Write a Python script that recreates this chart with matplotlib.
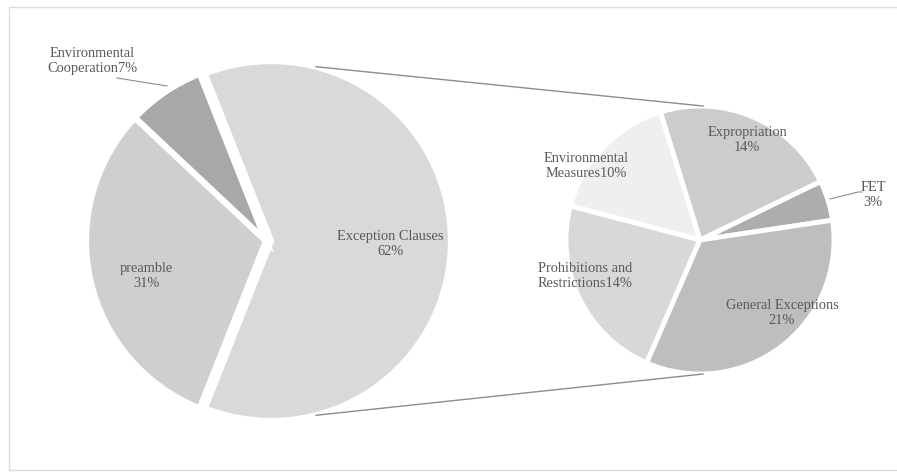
import numpy as np
import matplotlib
matplotlib.use("Agg")
import matplotlib.pyplot as plt
from matplotlib.patches import Rectangle

# ---- data ----
main_labels = ["Exception Clauses", "Environmental\nCooperation", "preamble"]
main_values = [62, 7, 31]
sub_labels = ["FET", "Expropriation", "Environmental\nMeasures", "Prohibitions and\nRestrictions", "General Exceptions"]
sub_values = [3, 14, 10, 14, 21]

# ---- styling ----
main_colors = ["#d9d9d9", "#a9a7a7", "#cfcfcf"]
sub_colors = ["#aeacac", "#cccccc", "#efefef", "#d8d8d8", "#bebebe"]
txt_color = "#595959"
font = dict(family="Liberation Serif", size=10.4, color=txt_color)

W, H = 897, 472
fig = plt.figure(figsize=(W / 100, H / 100), dpi=100)
ax = fig.add_axes([0, 0, 1, 1])

def Y(py):
    return H - py

# left pie
lc = (266, Y(241)); lr = 180
main_start = -360 * main_values[0] / sum(main_values) / 2
ax.pie(main_values, colors=main_colors, startangle=main_start, counterclock=True,
       center=lc, radius=lr, explode=[5, 0, 0],
       wedgeprops=dict(edgecolor="white", linewidth=4.5))

# right pie
rc = (700, Y(240)); rr = 134
ax.pie(sub_values, colors=sub_colors, startangle=8.5, counterclock=True,
       center=rc, radius=rr,
       wedgeprops=dict(edgecolor="white", linewidth=3.5))

ax.set_xlim(0, W)
ax.set_ylim(0, H)
ax.set_aspect("equal")
ax.axis("off")

# connector lines
ang = np.deg2rad(75.5)
lcx = lc[0] + 5
for s in (1, -1):
    x0 = lcx + lr * np.cos(ang)
    y0 = lc[1] + s * lr * np.sin(ang)
    x1 = rc[0] + 3
    y1 = rc[1] + s * rr
    ax.plot([x0, x1], [y0, y1], color="#8c8c8c", lw=1)

# labels
def pct(v):
    return f"{v}%"

ls = 1.22
ax.text(390, Y(244), main_labels[0] + "\n" + pct(main_values[0]), ha="center", va="center", linespacing=ls, **font)
ax.text(92, Y(61), main_labels[1] + pct(main_values[1]), ha="center", va="center", linespacing=ls, **font)
ax.text(146, Y(276), main_labels[2] + "\n" + pct(main_values[2]), ha="center", va="center", linespacing=ls, **font)
ax.plot([117, 167], [Y(78), Y(86)], color="#8c8c8c", lw=0.8)

ax.text(873, Y(195), sub_labels[0] + "\n" + pct(sub_values[0]), ha="center", va="center", linespacing=ls, **font)
ax.plot([830, 858, 862], [Y(199), Y(192), Y(192)], color="#8c8c8c", lw=0.8)
ax.text(747, Y(140), sub_labels[1] + "\n" + pct(sub_values[1]), ha="center", va="center", linespacing=ls, **font)
ax.text(586, Y(166), sub_labels[2] + pct(sub_values[2]), ha="center", va="center", linespacing=ls, **font)
ax.text(585, Y(276), sub_labels[3] + pct(sub_values[3]), ha="center", va="center", linespacing=ls, **font)
ax.text(782, Y(313), sub_labels[4] + "\n" + pct(sub_values[4]), ha="center", va="center", linespacing=ls, **font)

# frame
ax.add_patch(Rectangle((9, Y(470)), W, 463, fill=False, edgecolor="#dcdcdc", lw=1, clip_on=False))

fig.savefig("out.png", dpi=100)
